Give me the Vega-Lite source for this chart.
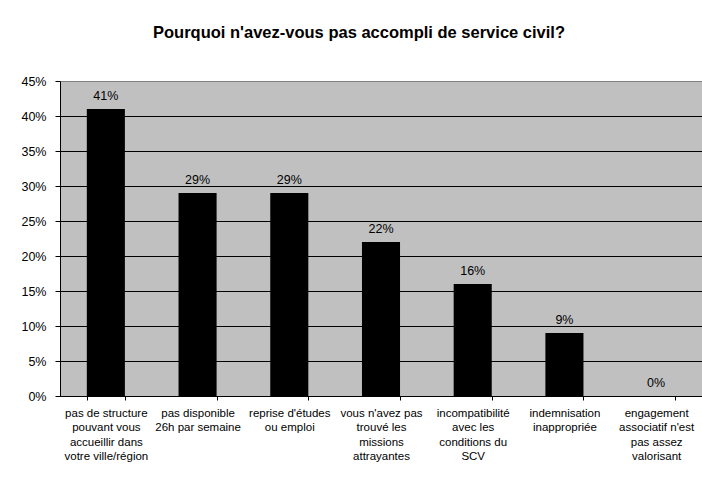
{
  "$schema": "https://vega.github.io/schema/vega-lite/v6.json",
  "autosize": {"type": "none"},
  "padding": {"left": 60, "top": 81, "right": 0, "bottom": 81},
  "width": 642,
  "height": 315,
  "background": "white",
  "title": {
    "text": "Pourquoi n'avez-vous pas accompli de service civil?",
    "font": "Liberation Sans",
    "fontSize": 16.5,
    "fontWeight": "bold",
    "color": "black",
    "anchor": "middle",
    "dx": -22,
    "offset": 34
  },
  "data": {
    "values": [
      {"raison": "pas de structure|pouvant vous|accueillir dans|votre ville/région", "part": 0.41},
      {"raison": "pas disponible|26h par semaine", "part": 0.29},
      {"raison": "reprise d'études|ou emploi", "part": 0.29},
      {"raison": "vous n'avez pas|trouvé les|missions|attrayantes", "part": 0.22},
      {"raison": "incompatibilité|avec les|conditions du|SCV", "part": 0.16},
      {"raison": "indemnisation|inappropriée", "part": 0.09},
      {"raison": "engagement|associatif n'est|pas assez|valorisant", "part": 0.0}
    ]
  },
  "encoding": {
    "x": {
      "field": "raison",
      "type": "nominal",
      "sort": null,
      "scale": {"paddingInner": 0.585, "paddingOuter": 0.2925},
      "axis": {
        "title": null,
        "labelAngle": 0,
        "labelExpr": "split(datum.label, '|')",
        "labelFont": "Liberation Sans",
        "labelFontSize": 11.5,
        "labelColor": "black",
        "labelLineHeight": 14.5,
        "labelBaseline": "top",
        "labelPadding": 7,
        "labelLimit": 200,
        "tickBand": "extent",
        "tickSize": 4,
        "tickColor": "black",
        "domainColor": "black",
        "grid": false
      }
    },
    "y": {
      "field": "part",
      "type": "quantitative",
      "scale": {"domain": [0, 0.45], "nice": false},
      "axis": {
        "title": null,
        "values": [0, 0.05, 0.1, 0.15, 0.2, 0.25, 0.3, 0.35, 0.4, 0.45],
        "format": ".0%",
        "labelFont": "Liberation Sans",
        "labelFontSize": 12.5,
        "labelColor": "black",
        "labelPadding": 9,
        "tickSize": 5,
        "tickColor": "black",
        "domainColor": "black",
        "grid": true,
        "gridColor": {"condition": {"test": "datum.value >= 0.45", "value": "#808080"}, "value": "black"},
        "gridOpacity": 1
      }
    }
  },
  "layer": [
    {"mark": {"type": "bar", "color": "black"}},
    {
      "mark": {"type": "text", "baseline": "alphabetic", "dy": -9, "font": "Liberation Sans", "fontSize": 12.5, "color": "black"},
      "encoding": {"text": {"field": "part", "type": "quantitative", "format": ".0%"}}
    }
  ],
  "config": {
    "view": {"fill": "#C0C0C0", "stroke": "#808080", "strokeWidth": 1}
  }
}
